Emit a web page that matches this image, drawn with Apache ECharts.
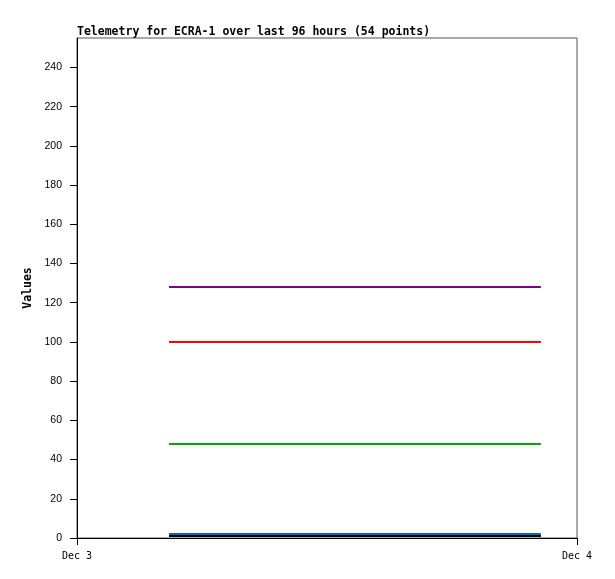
<!DOCTYPE html>
<html>
<head>
<meta charset="utf-8">
<script src="https://cdn.jsdelivr.net/npm/echarts@6/dist/echarts.min.js"></script>
<style>html,body{margin:0;padding:0;background:#fff;}#c{width:615px;height:579px;}</style>
</head>
<body>
<div id="c"></div>
<script>
const titleText = 'Telemetry for ECRA-1 over last 96 hours (54 points)';
const xStart = '2023-12-03T00:00:00Z';
const xEnd = '2023-12-04T00:00:00Z';
const timestamps = ['2023-12-03T04:25:00Z', '2023-12-03T22:16:00Z'];
const seriesNames = ['Series A', 'Series B', 'Series C', 'Series D', 'Series E'];
const seriesA = [128, 128];
const seriesB = [100, 100];
const seriesC = [48, 48];
const seriesD = [2, 2];
const seriesE = [1, 1];
const yTicks = [0, 20, 40, 60, 80, 100, 120, 140, 160, 180, 200, 220, 240];
const yMax = 255;

const seriesValues = [seriesA, seriesB, seriesC, seriesD, seriesE];
const colors = ['#800080', '#ff0000', '#00aa00', '#0066cc', '#000000'];
const xMin = Date.parse(xStart), xMax = Date.parse(xEnd);
const months = ['Jan','Feb','Mar','Apr','May','Jun','Jul','Aug','Sep','Oct','Nov','Dec'];

const chart = echarts.init(document.getElementById('c'), null, {renderer: 'canvas'});
chart.setOption({
  backgroundColor: '#ffffff',
  animation: false,
  title: {
    text: titleText,
    left: 72, top: 21,
    textStyle: {fontFamily: 'DejaVu Sans Mono', fontWeight: 'bold', fontSize: 11.5, color: '#000'}
  },
  grid: {left: 77, right: 38, top: 38, bottom: 41, show: true, borderColor: '#555', borderWidth: 1, backgroundColor: '#fff'},
  xAxis: {
    type: 'value', min: xMin, max: xMax, interval: 86400000,
    splitLine: {show: false},
    axisLine: {lineStyle: {color: '#000', width: 1}},
    axisTick: {length: 7, lineStyle: {color: '#000'}, customValues: [xMin, xMax]},
    axisLabel: {
      customValues: [xMin, xMax], margin: 13,
      fontFamily: 'DejaVu Sans Mono', fontSize: 10, color: '#000',
      formatter: v => { const d = new Date(v); return months[d.getUTCMonth()] + ' ' + d.getUTCDate(); }
    }
  },
  yAxis: {
    type: 'value', min: 0, max: yMax, interval: 20,
    name: 'Values', nameLocation: 'middle', nameRotate: 90, nameGap: 38,
    nameTextStyle: {fontFamily: 'DejaVu Sans Mono', fontWeight: 'bold', fontSize: 11.5, color: '#000'},
    splitLine: {show: false},
    axisLine: {show: true, lineStyle: {color: '#000', width: 1}},
    axisTick: {show: true, length: 7, lineStyle: {color: '#000'}, customValues: yTicks},
    axisLabel: {customValues: yTicks, margin: 15, fontFamily: 'Liberation Sans', fontSize: 10.5, color: '#000', padding: [3, 0, 0, 0]}
  },
  series: seriesValues.map((vals, i) => ({
    name: seriesNames[i], type: 'line', showSymbol: false, symbol: 'none',
    lineStyle: {width: 2, color: colors[i]}, itemStyle: {color: colors[i]},
    data: vals.map((v, j) => [Date.parse(timestamps[j]), v])
  }))
});
</script>
</body>
</html>
